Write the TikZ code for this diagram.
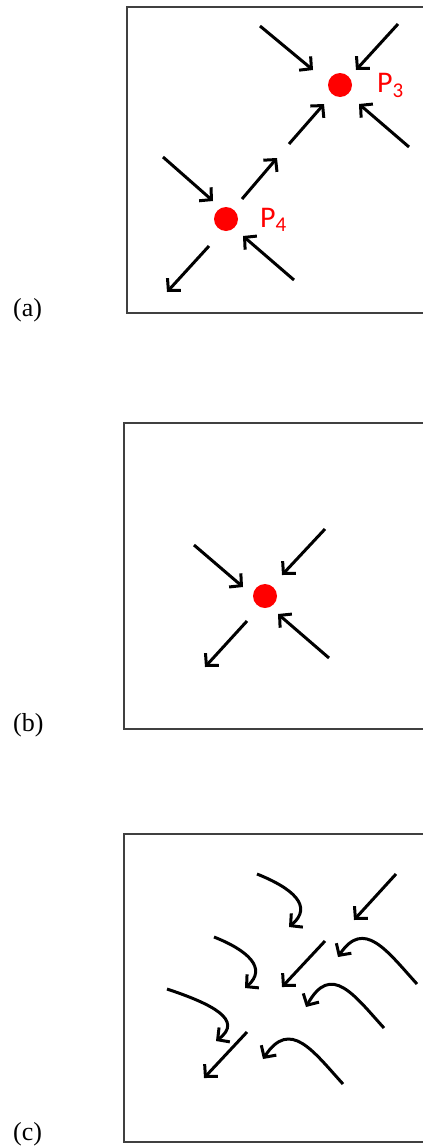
\documentclass[tikz,border=0pt]{standalone}
\usepackage{fontspec}
\setmainfont{Liberation Serif}
\newfontfamily\plabelfont{Carlito}
\usetikzlibrary{arrows.meta}

\begin{document}
\begin{tikzpicture}[
    x=1pt, y=-1pt,
    panel/.style={draw=black!75, line width=1.4pt},
    flow/.style={line width=3pt, -{Straight Barb[length=8.5pt, width=18pt, line join=miter]}},
    dot/.style={draw=none, circle, fill=red, inner sep=0pt, minimum size=24pt},
    ptext/.style={anchor=base west, text=red, inner sep=0pt, font=\plabelfont\fontsize{30}{34}\selectfont},
    caption/.style={anchor=base west, inner sep=0pt, font=\fontsize{26}{30}\selectfont}
]
\clip (0,0) rectangle (423,1146);

% Panels
\draw[panel] (127,7) rectangle (450,313);
\draw[panel] (124,423) rectangle (450,729);
\draw[panel] (124,834) rectangle (450,1142);

\node[caption] (capA) at (13,316) {(a)};
\node[caption] (capB) at (13,731) {(b)};
\node[caption] (capC) at (13,1140) {(c)};

% Panel (a)
\node[dot] (P3) at (340,85) {};
\node[ptext] (P3lab) at (377,92) {P\textsubscript{3}};
\node[dot] (P4) at (226,219) {};
\node[ptext] (P4lab) at (260,227) {P\textsubscript{4}};

\coordinate (a1s) at (260,26);  \coordinate (a1e) at (313,70);
\coordinate (a2s) at (398,24);  \coordinate (a2e) at (356,70);
\coordinate (a3s) at (409,147); \coordinate (a3e) at (359,104);
\coordinate (a4s) at (289,144); \coordinate (a4e) at (324,104);
\coordinate (a5s) at (242,199); \coordinate (a5e) at (277,158);
\coordinate (a6s) at (163,157); \coordinate (a6e) at (213,201);
\coordinate (a7s) at (294,280); \coordinate (a7e) at (243,236);
\coordinate (a8s) at (209,246); \coordinate (a8e) at (167,292);

\draw[flow] (a1s) -- (a1e);
\draw[flow] (a2s) -- (a2e);
\draw[flow] (a3s) -- (a3e);
\draw[flow] (a4s) -- (a4e);
\draw[flow] (a5s) -- (a5e);
\draw[flow] (a6s) -- (a6e);
\draw[flow] (a7s) -- (a7e);
\draw[flow] (a8s) -- (a8e);

% Panel (b)
\node[dot] (P) at (265,596) {};

\coordinate (b1s) at (194,545); \coordinate (b1e) at (243,587);
\coordinate (b2s) at (325,529); \coordinate (b2e) at (282,575);
\coordinate (b3s) at (329,658); \coordinate (b3e) at (278,614);
\coordinate (b4s) at (247,621); \coordinate (b4e) at (205,667);

\draw[flow] (b1s) -- (b1e);
\draw[flow] (b2s) -- (b2e);
\draw[flow] (b3s) -- (b3e);
\draw[flow] (b4s) -- (b4e);

% Panel (c)
\coordinate (s1s) at (396,874);  \coordinate (s1e) at (354,920);
\coordinate (s2s) at (325,941);  \coordinate (s2e) at (282,987);
\coordinate (s3s) at (247,1032); \coordinate (s3e) at (204,1078);

\draw[flow] (s1s) -- (s1e);
\draw[flow] (s2s) -- (s2e);
\draw[flow] (s3s) -- (s3e);

\coordinate (c1s) at (257,874);  \coordinate (c1e) at (289,927);
\coordinate (c2s) at (214,937);  \coordinate (c2e) at (245,988);
\coordinate (c3s) at (167,989);  \coordinate (c3e) at (216,1041);
\coordinate (r1s) at (417,984);  \coordinate (r1e) at (338,957);
\coordinate (r2s) at (384,1028); \coordinate (r2e) at (306,1007);
\coordinate (r3s) at (343,1084); \coordinate (r3e) at (263,1059);

\draw[flow] (c1s) .. controls (292,888) and (314,906) .. (c1e);
\draw[flow] (c2s) .. controls (247,950) and (268,968) .. (c2e);
\draw[flow] (c3s) .. controls (212,1004) and (244,1020) .. (c3e);
\draw[flow] (r1s) .. controls (387,951) and (364,918) .. (r1e);
\draw[flow] (r2s) .. controls (354,995) and (331,962) .. (r2e);
\draw[flow] (r3s) .. controls (313,1051) and (290,1018) .. (r3e);

\end{tikzpicture}
\end{document}
